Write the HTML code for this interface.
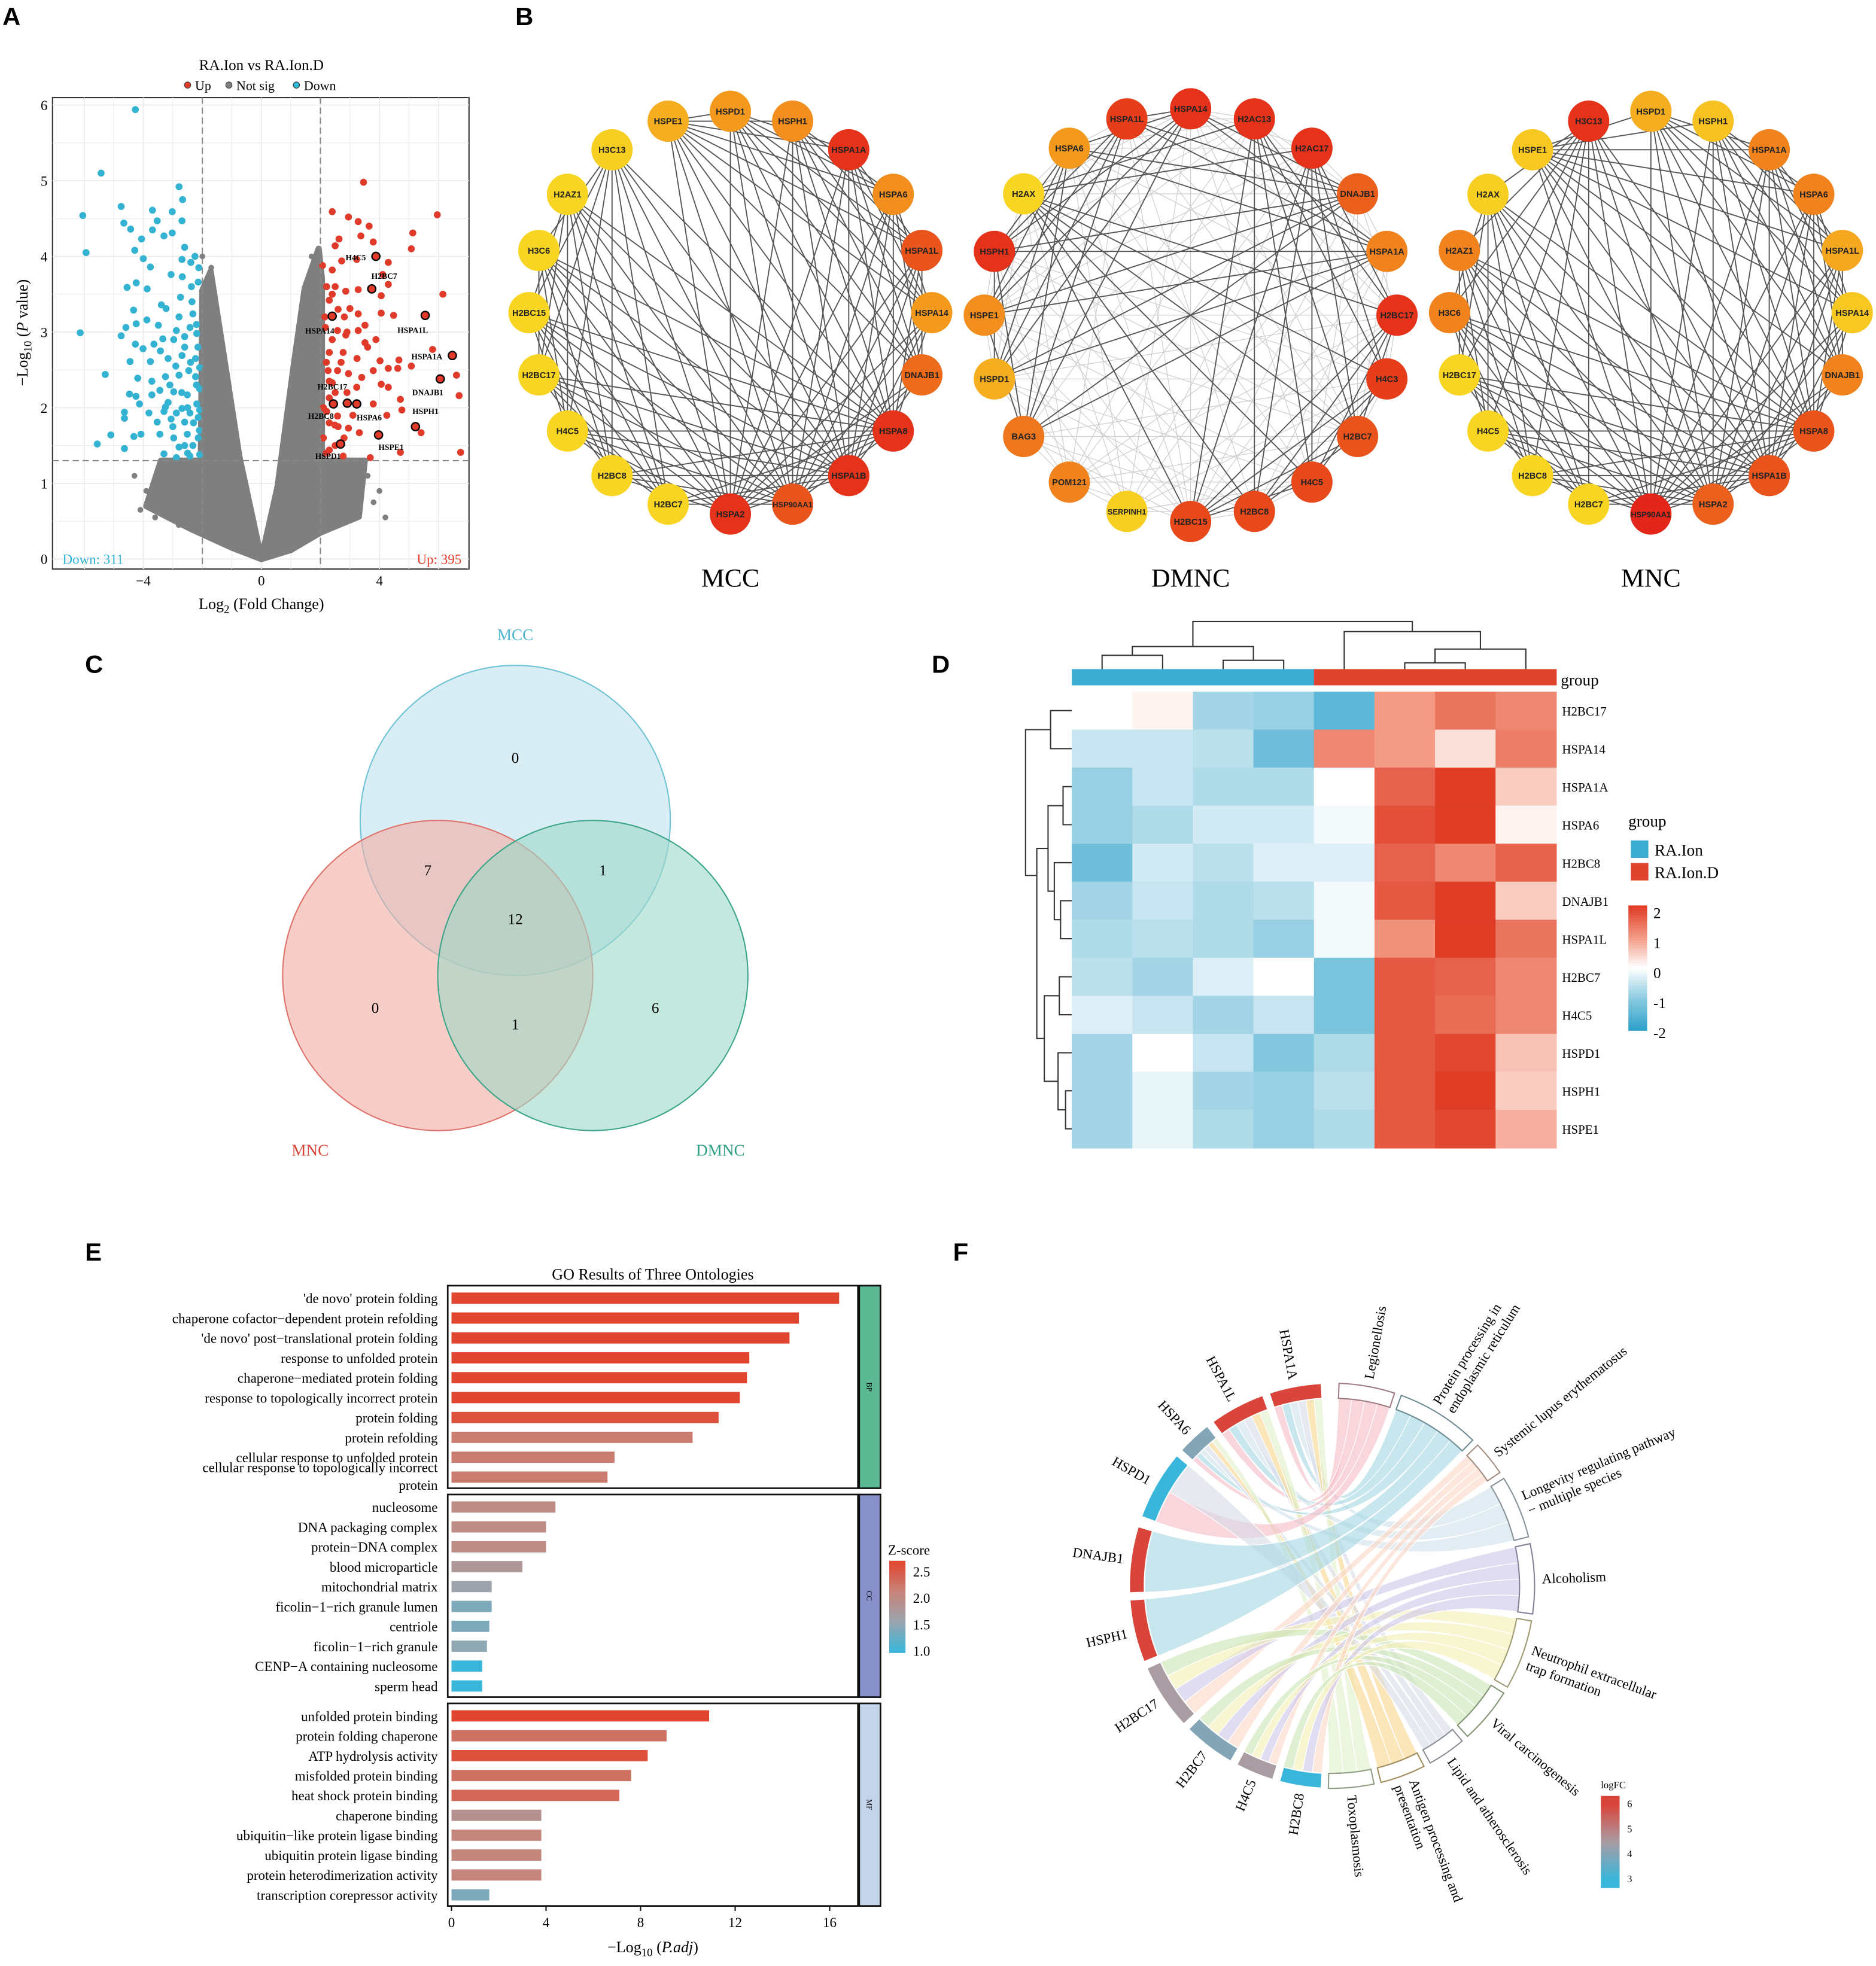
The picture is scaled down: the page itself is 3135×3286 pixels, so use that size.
<!DOCTYPE html>
<html><head><meta charset="utf-8"><style>
html,body{margin:0;padding:0;background:#fff}
svg{display:block}
text{font-family:"Liberation Serif",serif}
.sans{font-family:"Liberation Sans",sans-serif}
</style></head><body>
<svg id="fig" xmlns="http://www.w3.org/2000/svg" width="3135" height="3286" viewBox="0 0 1500 1572" preserveAspectRatio="none">
<rect x="0" y="0" width="1500" height="1572" fill="#fff"/>
<text class="sans" x="2" y="20" font-size="20" font-weight="bold">A</text>
<text class="sans" x="412" y="20" font-size="20" font-weight="bold">B</text>
<text class="sans" x="68" y="538" font-size="20" font-weight="bold">C</text>
<text class="sans" x="745" y="538" font-size="20" font-weight="bold">D</text>
<text class="sans" x="68" y="1008" font-size="20" font-weight="bold">E</text>
<text class="sans" x="762" y="1008" font-size="20" font-weight="bold">F</text>
<g id="A"></g><g id="B"></g><g id="C"></g><g id="D"></g><g id="E"></g><g id="F"></g>
</svg>
<script>
// ---------- DATA ----------
const volcanoDown=[[-4.27,5.94],[-5.43,5.1],[-6.05,4.54],[-5.94,4.05],[-6.14,2.99],[-4.75,4.66],[-2.79,4.92],[-2.67,4.75],[-3.69,4.61],[-4.66,4.44],[-3.02,4.59],[-3.53,4.47],[-2.69,4.47],[-4.43,4.36],[-3.69,4.35],[-3.3,4.27],[-3.02,4.31],[-4.06,4.23],[-4.29,4.08],[-2.6,4.12],[-4.0,3.97],[-2.25,4.0],[-2.69,3.96],[-3.76,3.86],[-2.39,3.92],[-2.12,3.85],[-3.06,3.76],[-2.68,3.73],[-4.55,3.59],[-4.24,3.65],[-3.87,3.57],[-2.37,3.6],[-2.14,3.66],[-2.74,3.46],[-3.39,3.36],[-4.33,3.29],[-4.59,3.06],[-4.24,3.11],[-3.88,3.16],[-3.49,3.09],[-3.23,3.31],[-2.79,3.2],[-2.32,3.24],[-4.75,2.95],[-4.27,2.84],[-4.01,2.78],[-3.64,2.84],[-3.34,2.91],[-2.97,2.9],[-2.6,2.94],[-2.19,2.98],[-3.42,2.75],[-4.45,2.61],[-3.76,2.61],[-3.16,2.65],[-2.69,2.69],[-2.23,2.65],[-5.29,2.44],[-4.19,2.39],[-3.71,2.35],[-3.25,2.41],[-2.79,2.43],[-2.23,2.41],[-4.47,2.18],[-4.25,2.15],[-3.44,2.23],[-2.97,2.21],[-2.51,2.17],[-2.09,2.25],[-4.13,2.05],[-3.25,2.01],[-2.69,1.99],[-2.19,2.05],[-4.64,1.94],[-4.64,1.86],[-3.81,1.93],[-3.53,1.81],[-3.06,1.85],[-2.6,1.81],[-2.14,1.87],[-5.1,1.64],[-5.56,1.52],[-4.64,1.46],[-4.32,1.62],[-4.08,1.65],[-3.44,1.65],[-2.97,1.6],[-2.51,1.65],[-2.14,1.6],[-3.3,1.39],[-2.88,1.34],[-2.42,1.36],[-2.09,1.38],[-2.79,1.48],[-2.32,1.5],[-3.16,2.07],[-2.88,1.93],[-2.42,1.93],[-2.09,1.97],[-2.46,2.49],[-2.09,2.53],[-2.42,3.06],[-2.88,3.02],[-3.71,2.17],[-2.1,1.7],[-2.3,1.8],[-2.5,2.0],[-2.2,2.3],[-2.4,2.6],[-2.15,2.8],[-2.35,3.4],[-2.2,3.1],[-2.6,1.5],[-2.7,2.2],[-2.9,2.55],[-3.1,2.3],[-2.6,2.8],[-3.0,1.75],[-3.3,1.95],[-2.5,1.4]];
const volcanoUp=[[3.46,4.98],[2.4,4.59],[5.96,4.55],[2.95,4.52],[3.28,4.46],[3.65,4.4],[5.13,4.31],[2.63,4.23],[3.37,4.27],[3.79,4.19],[2.5,4.14],[5.08,4.1],[3.88,4.0],[2.72,3.94],[3.23,3.96],[4.3,3.92],[2.07,3.88],[2.4,3.82],[4.11,3.76],[3.74,3.57],[4.3,3.63],[6.15,3.5],[2.21,3.6],[2.5,3.6],[2.86,3.54],[3.28,3.56],[4.06,3.48],[2.3,3.42],[2.4,3.21],[5.55,3.22],[3.0,3.31],[3.28,3.24],[2.81,3.2],[4.06,3.25],[4.48,3.22],[3.51,3.09],[2.17,3.06],[2.58,3.02],[3.28,3.02],[2.86,2.96],[3.88,2.9],[3.51,2.86],[5.8,2.77],[6.47,2.69],[2.3,2.73],[2.77,2.73],[3.24,2.65],[4.02,2.62],[4.66,2.63],[5.08,2.55],[2.26,2.49],[2.58,2.49],[2.95,2.45],[3.79,2.49],[4.3,2.52],[4.62,2.52],[6.61,2.43],[6.06,2.38],[2.4,2.33],[3.23,2.27],[4.06,2.31],[4.3,2.27],[6.7,2.16],[2.3,2.13],[4.71,2.11],[2.44,2.05],[2.91,2.06],[3.23,2.05],[3.79,2.05],[4.76,1.97],[2.21,1.95],[2.58,1.89],[4.25,1.9],[5.22,1.75],[5.41,1.67],[3.97,1.64],[2.49,1.77],[2.95,1.73],[3.32,1.67],[2.68,1.52],[6.75,1.41],[4.71,1.41],[3.69,1.34],[2.3,1.44],[2.77,1.36],[2.1,1.6],[2.3,1.8],[2.5,2.2],[2.2,2.6],[2.4,2.9],[2.15,3.2],[2.6,3.3],[2.1,2.0],[2.7,2.6],[2.9,2.2],[2.5,1.5],[2.2,1.4],[2.8,1.6],[3.1,1.9],[2.4,3.5],[2.9,3.0],[3.4,2.4],[3.6,2.8],[2.3,2.35],[2.6,1.75]];
const volcanoNSLeft=[[0,0],[-0.75,1.36],[-1.2,2.5],[-1.72,3.8],[-2.0,3.55],[-2.05,1.3],[-3.4,1.3],[-3.9,0.7],[-2.4,0.4],[-1.0,0.15]];
const volcanoNSRight=[[0,0],[0.55,0.96],[1.1,2.57],[1.47,3.58],[1.94,4.1],[2.05,3.7],[2.05,1.3],[3.5,1.3],[3.3,0.56],[2.0,0.35],[1.0,0.12]];
const volcanoNSScatter=[[-4.3,1.1],[-4.1,0.65],[-3.9,0.9],[-3.6,0.55],[-3.2,0.6],[-2.8,0.45],[-3.5,1.05],[3.6,1.1],[4.0,0.9],[4.2,0.55],[3.8,0.75],[-2.0,4.0],[-1.7,3.85],[1.7,4.0]];
const volcanoLabels=["H4C5","H2BC7","HSPA14","HSPA1L","HSPA1A","DNAJB1","H2BC8","H2BC17","HSPA6","HSPH1","HSPE1","HSPD1"];
const volcanoLabX=[3.88,3.74,2.4,5.55,6.47,6.06,2.44,2.91,3.23,5.22,3.97,2.68];
const volcanoLabY=[4.0,3.57,3.21,3.22,2.69,2.38,2.05,2.06,2.05,1.75,1.64,1.52];
const volcanoXTicks=[-4,0,4];
const volcanoYTicks=[0,1,2,3,4,5,6];

const mccNames=["HSPD1","HSPH1","HSPA1A","HSPA6","HSPA1L","HSPA14","DNAJB1","HSPA8","HSPA1B","HSP90AA1","HSPA2","H2BC7","H2BC8","H4C5","H2BC17","H2BC15","H3C6","H2AZ1","H3C13","HSPE1"];
const mccScore=[0.5,0.55,0.95,0.55,0.8,0.5,0.7,0.95,0.95,0.8,0.95,0.05,0.05,0.05,0.05,0.05,0.05,0.05,0.1,0.35];
const mccCliques=[[0,1,2,3,4,5,6,7,8,9,10,19],[11,12,13,14,15,16,17,18,10,9,8,7]];
const dmncNames=["HSPA14","H2AC13","H2AC17","DNAJB1","HSPA1A","H2BC17","H4C3","H2BC7","H4C5","H2BC8","H2BC15","SERPINH1","POM121","BAG3","HSPD1","HSPE1","HSPH1","H2AX","HSPA6","HSPA1L"];
const dmncScore=[0.95,0.95,0.95,0.75,0.6,0.95,0.9,0.8,0.85,0.85,0.85,0.1,0.6,0.65,0.35,0.55,0.95,0.05,0.5,0.9];
const dmncCliques=[[0,3,4,14,15,16,18,19,13],[1,2,5,6,7,8,9,10,17]];
const mncNames=["HSPD1","HSPH1","HSPA1A","HSPA6","HSPA1L","HSPA14","DNAJB1","HSPA8","HSPA1B","HSPA2","HSP90AA1","H2BC7","H2BC8","H4C5","H2BC17","H3C6","H2AZ1","H2AX","HSPE1","H3C13"];
const mncScore=[0.35,0.2,0.6,0.6,0.4,0.15,0.6,0.8,0.8,0.75,1.0,0.05,0.05,0.05,0.05,0.6,0.6,0.1,0.15,0.95];
const mncCliques=[[0,1,2,3,4,5,6,7,8,9,10,18],[11,12,13,14,15,16,17,19,10,9,8,7]];

const vennLabels=["0","7","1","12","0","1","6"];
const heatRows=["H2BC17","HSPA14","HSPA1A","HSPA6","H2BC8","DNAJB1","HSPA1L","H2BC7","H4C5","HSPD1","HSPH1","HSPE1"];
const heatVals=[
[0,0.1,-0.8,-0.9,-1.5,1.0,1.4,1.2],
[-0.5,-0.5,-0.6,-1.3,1.2,1.0,0.3,1.3],
[-0.9,-0.5,-0.7,-0.7,0,1.6,2.0,0.5],
[-0.9,-0.7,-0.4,-0.4,-0.1,1.8,2.0,0.1],
[-1.3,-0.4,-0.6,-0.3,-0.3,1.6,1.2,1.6],
[-0.8,-0.5,-0.7,-0.6,-0.1,1.7,2.0,0.5],
[-0.7,-0.6,-0.7,-0.9,-0.1,1.1,2.0,1.4],
[-0.6,-0.8,-0.3,0,-1.2,1.7,1.6,1.2],
[-0.3,-0.5,-0.8,-0.5,-1.2,1.7,1.5,1.2],
[-0.8,0,-0.5,-1.1,-0.7,1.7,1.9,0.6],
[-0.8,-0.2,-0.8,-0.9,-0.6,1.7,2.0,0.5],
[-0.8,-0.2,-0.7,-0.9,-0.7,1.7,1.9,0.8]];
const heatGroups=["RA.Ion","RA.Ion","RA.Ion","RA.Ion","RA.Ion.D","RA.Ion.D","RA.Ion.D","RA.Ion.D"];

const goTerms=["'de novo' protein folding","chaperone cofactor\u2212dependent protein refolding","'de novo' post\u2212translational protein folding","response to unfolded protein","chaperone\u2212mediated protein folding","response to topologically incorrect protein","protein folding","protein refolding","cellular response to unfolded protein","cellular response to topologically incorrect|protein",
"nucleosome","DNA packaging complex","protein\u2212DNA complex","blood microparticle","mitochondrial matrix","ficolin\u22121\u2212rich granule lumen","centriole","ficolin\u22121\u2212rich granule","CENP\u2212A containing nucleosome","sperm head",
"unfolded protein binding","protein folding chaperone","ATP hydrolysis activity","misfolded protein binding","heat shock protein binding","chaperone binding","ubiquitin\u2212like protein ligase binding","ubiquitin protein ligase binding","protein heterodimerization activity","transcription corepressor activity"];
const goValues=[16.4,14.7,14.3,12.6,12.5,12.2,11.3,10.2,6.9,6.6, 4.4,4.0,4.0,3.0,1.7,1.7,1.6,1.5,1.3,1.3, 10.9,9.1,8.3,7.6,7.1,3.8,3.8,3.8,3.8,1.6];
const goZ=[2.7,2.7,2.7,2.7,2.7,2.7,2.6,2.2,2.2,2.2, 2.0,2.0,2.0,1.8,1.6,1.4,1.4,1.5,1.0,1.0, 2.7,2.3,2.6,2.3,2.4,1.9,2.1,2.1,2.1,1.4];
const goOnt=["BP","CC","MF"];
const goXTicks=[0,4,8,12,16];
const goZTicks=[2.5,2.0,1.5,1.0];

const chordGenes=["HSPA1A","HSPA1L","HSPA6","HSPD1","DNAJB1","HSPH1","H2BC17","H2BC7","H4C5","H2BC8"];
const chordGeneStart=[-18,-36,-48,-70,-92,-112,-133,-150,-163,-177];
const chordGeneEnd=[-3,-20,-38,-50,-73,-94,-114,-135,-152,-165];
const chordLogFC=[6,6,4,3,6,6,4.5,4,4.5,3];
const chordPaths=["Legionellosis","Protein processing in|endoplasmic reticulum","Systemic lupus erythematosus","Longevity regulating pathway|\u2212 multiple species","Alcoholism","Neutrophil extracellular|trap formation","Viral carcinogenesis","Lipid and atherosclerosis","Antigen processing and|presentation","Toxoplasmosis"];
const chordPathStart=[2,20,46,58,78,100,122,140,153,168];
const chordPathEnd=[18,44,56,76,98,120,138,151,166,181];
const chordPathColor=["#f6bcc6","#a6d6e2","#fbd9c6","#cfe2ec","#cdc6ea","#f4efb4","#cbe5b6","#d7dbe6","#f7d68e","#e1f1cc"];
const chordLinks=[[0,0],[0,1],[0,3],[0,7],[0,8],[0,9],[1,0],[1,1],[1,3],[1,7],[1,8],[1,9],[2,0],[2,1],[2,3],[2,7],[2,8],[2,9],[3,0],[3,7],[4,1],[5,1],[6,2],[6,4],[6,5],[6,6],[7,2],[7,4],[7,5],[7,6],[8,2],[8,4],[8,5],[8,6],[9,2],[9,4],[9,5],[9,6]];
const chordFCTicks=[6,5,4,3];

// ---------- HELPERS ----------
const NS="http://www.w3.org/2000/svg";
function mk(tag,attrs,parent){const e=document.createElementNS(NS,tag);for(const k in attrs)e.setAttribute(k,attrs[k]);(parent||document.getElementById('fig')).appendChild(e);return e;}
function txt(parent,x,y,s,size,anchor,extra){const e=mk('text',Object.assign({x:x,y:y,'font-size':size,'text-anchor':anchor||'start'},extra||{}),parent);e.textContent=s;return e;}
function hex(c){return [parseInt(c.slice(1,3),16),parseInt(c.slice(3,5),16),parseInt(c.slice(5,7),16)];}
function mix(a,b,t){const A=hex(a),B=hex(b);return 'rgb('+A.map((v,i)=>Math.round(v+(B[i]-v)*t)).join(',')+')';}
function ramp(stops,t){t=Math.max(0,Math.min(1,t));const n=stops.length-1;const i=Math.min(n-1,Math.floor(t*n));return mix(stops[i],stops[i+1],t*n-i);}

// ---------- A: VOLCANO ----------
(function(){
const g=document.getElementById('A');
const X=v=>209+v*23.6, Y=v=>447-v*60.5;
let e=mk('rect',{x:42,y:78,width:333,height:377,fill:'#fff',stroke:'#333','stroke-width':1},g);


for(let v=-6;v<=7;v+=1){e=mk('line',{x1:X(v),x2:X(v),y1:78,y2:455,stroke:'#ececec','stroke-width':v%2===0?0.9:0.5},g);

}
for(let v=0;v<=6;v+=0.5){e=mk('line',{x1:42,x2:375,y1:Y(v),y2:Y(v),stroke:'#ececec','stroke-width':v%1===0?0.9:0.5},g);

}
[volcanoNSLeft,volcanoNSRight].forEach(poly=>{const p=mk('polygon',{points:poly.map(q=>X(q[0])+','+Y(q[1])).join(' '),fill:'#7f7f7f',stroke:'#7f7f7f','stroke-width':5,'stroke-linejoin':'round'},g);

});
volcanoNSScatter.forEach(p=>{const c=mk('circle',{cx:X(p[0]),cy:Y(p[1]),r:2.3,fill:'#7f7f7f'},g);

});
volcanoDown.forEach(p=>{const c=mk('circle',{cx:X(p[0]),cy:Y(p[1]),r:2.8,fill:'#34b2d2'},g);

});
volcanoUp.forEach(p=>{const c=mk('circle',{cx:X(p[0]),cy:Y(p[1]),r:2.8,fill:'#e03a2a'},g);

});
[[X(-2),X(-2),78,455],[X(2),X(2),78,455],[42,375,Y(1.3),Y(1.3)]].forEach(l=>{const c=mk('line',{x1:l[0],x2:l[1],y1:l[2],y2:l[3],stroke:'#888','stroke-width':1,'stroke-dasharray':'5,3'},g);

});
const offs=[[-8,3,'end'],[10,-8,'middle'],[-10,14,'middle'],[-10,14,'middle'],[-8,3,'end'],[-10,13,'middle'],[-10,12,'middle'],[-12,-11,'middle'],[10,13,'middle'],[8,-10,'middle'],[10,12,'middle'],[-10,12,'middle']];
volcanoLabels.forEach((s,i)=>{const px=X(volcanoLabX[i]),py=Y(volcanoLabY[i]);
const c=mk('circle',{cx:px,cy:py,r:3.2,fill:'#e03a2a',stroke:'#000','stroke-width':1.1},g);


const t=txt(g,px+offs[i][0],py+offs[i][1],s,6.5,offs[i][2],{'font-weight':'bold'});

});
volcanoXTicks.forEach(v=>{const t=txt(g,X(v),468,v<0?'\u2212'+(-v):String(v),11,'middle');

});
volcanoYTicks.forEach(v=>{const t=txt(g,38,Y(v)+4,String(v),11,'end');

});
e=txt(g,209,56,'RA.Ion vs RA.Ion.D',12,'middle');
const leg=[['#e03a2a','Up',150],['#7f7f7f','Not sig',183],['#2fb4d2','Down',237]];
leg.forEach(l=>{const c=mk('circle',{cx:l[2],cy:68,r:2.5,fill:l[0],stroke:'#333','stroke-width':0.5},g);


const t=txt(g,l[2]+6,72,l[1],10.5,'start');

});
e=txt(g,50,451,'Down: 311',11,'start',{fill:'#2fb4d2'});
e=txt(g,369,451,'Up: 395',11,'end',{fill:'#e03a2a'});
e=mk('text',{x:209,y:487,'font-size':12.5,'text-anchor':'middle'},g);e.innerHTML='Log<tspan font-size="9" dy="3">2</tspan><tspan dy="-3"> (Fold Change)</tspan>';

e=mk('text',{x:0,y:0,'font-size':12.5,'text-anchor':'middle',transform:'translate(22,266) rotate(-90)'},g);e.innerHTML='\u2212Log<tspan font-size="9" dy="3">10</tspan><tspan dy="-3"> (</tspan><tspan font-style="italic">P</tspan> value)';

})();

// ---------- B: NETWORKS ----------
function nodeColor(s){return ramp(['#f8dc24','#f39a1e','#e3261a'],s);}
function network(cx,cy,r,names,scores,cliques,title,light,key){
const g=mk('g',{},document.getElementById('B'));


const pos=names.map((n,i)=>{const a=i*Math.PI*2/names.length;return [cx+r*Math.sin(a),cy-r*Math.cos(a)];});
if(light){for(let i=0;i<names.length;i++)for(let j=i+1;j<names.length;j++){if((i+j)%3===0)continue;const l=mk('line',{x1:pos[i][0],y1:pos[i][1],x2:pos[j][0],y2:pos[j][1],stroke:'#cfcfcf','stroke-width':0.6},g);

}}
const seen={};
cliques.forEach(c=>{for(let a=0;a<c.length;a++)for(let b=a+1;b<c.length;b++){const i=c[a],j=c[b];const k=Math.min(i,j)+'-'+Math.max(i,j);if(seen[k]||Math.abs(i-j)===1)continue;seen[k]=1;
const l=mk('line',{x1:pos[i][0],y1:pos[i][1],x2:pos[j][0],y2:pos[j][1],stroke:'#555','stroke-width':0.9},g);

}});
names.forEach((n,i)=>{const c=mk('circle',{cx:pos[i][0],cy:pos[i][1],r:16.5,fill:nodeColor(scores[i])},g);


const t=txt(g,pos[i][0],pos[i][1]+2.5,n,n.length>6?6.2:7,'middle',{class:'sans','font-weight':'bold',fill:'#222'});

});
const t=txt(g,cx,469,title,21,'middle');


}
network(584,250,161,mccNames,mccScore,mccCliques,'MCC',false,'mcc');
network(952,252,165,dmncNames,dmncScore,dmncCliques,'DMNC',true,'dmnc');
network(1320,250,161,mncNames,mncScore,mncCliques,'MNC',false,'mnc');

// ---------- C: VENN ----------
(function(){
const g=document.getElementById('C');
const circ=[[412,656,'#bfe3ec','#6ec3d6','mcc-circle'],[350,780,'#f2aba2','#e0706a','mnc-circle'],[474,780,'#9ed8c8','#3aa588','dmnc-circle']];
circ.forEach(c=>{const e=mk('circle',{cx:c[0],cy:c[1],r:124,fill:c[2],'fill-opacity':0.6,stroke:c[3],'stroke-width':1},g);

});
const pos=[[412,610],[342,700],[482,700],[412,739],[300,810],[412,823],[524,810]];
vennLabels.forEach((s,i)=>{const t=txt(g,pos[i][0],pos[i][1],s,12,'middle');

});
let t=txt(g,412,512,'MCC',13,'middle',{fill:'#4fb6cf'});
t=txt(g,248,924,'MNC',13,'middle',{fill:'#d9453a'});
t=txt(g,576,924,'DMNC',13,'middle',{fill:'#2e9e83'});
})();

// ---------- D: HEATMAP ----------
(function(){
const g=document.getElementById('D');
const x0=857,y0=553,cw=48.4,rh=30.4;
function hc(v){return v<0?ramp(['#ffffff','#8ccbe0','#2fa3cc'],-v/2):ramp(['#ffffff','#f29a84','#df3d26'],v/2);}
heatVals.forEach((row,i)=>row.forEach((v,j)=>{const r=mk('rect',{x:x0+j*cw,y:y0+i*rh,width:cw+0.5,height:rh+0.5,fill:hc(v)},g);

}));
heatRows.forEach((s,i)=>{const t=txt(g,1249,y0+i*rh+rh/2+4,s,10,'start');

});
heatGroups.forEach((s,j)=>{const r=mk('rect',{x:x0+j*cw,y:535,width:cw+0.5,height:13,fill:s==='RA.Ion'?'#3cadd0':'#e0432e'},g);

});
let t=txt(g,1248,548,'group',13,'start');
const cx=j=>x0+(j+0.5)*cw;
const top=[[cx(2),cx(3),528,[535,535]],[cx(0),cx(1),524,[535,535]],[(cx(0)+cx(1))/2,(cx(2)+cx(3))/2,517,[524,528]],[cx(5),cx(6),530,[535,535]],[cx(7),(cx(5)+cx(6))/2,519,[535,530]],[cx(4),(cx(7)+(cx(5)+cx(6))/2)/2,505,[535,519]],[((cx(0)+cx(1))/2+(cx(2)+cx(3))/2)/2,(cx(4)+(cx(7)+(cx(5)+cx(6))/2)/2)/2,497,[517,505]]];
top.forEach(d=>{const p=mk('path',{d:`M${d[0]},${d[3][0]}V${d[2]}H${d[1]}V${d[3][1]}`,fill:'none',stroke:'#333','stroke-width':1},g);

});
const ry=i=>y0+(i+0.5)*rh;
const left=[[ry(2),ry(3),850,[857,857]],[ry(5),ry(6),848,[857,857]],[ry(4),(ry(5)+ry(6))/2,843,[857,848]],[(ry(2)+ry(3))/2,(ry(4)+(ry(5)+ry(6))/2)/2,838,[850,843]],[ry(10),ry(11),852,[857,857]],[ry(9),(ry(10)+ry(11))/2,846,[857,852]],[ry(7),ry(8),847,[857,857]],[(ry(7)+ry(8))/2,(ry(9)+(ry(10)+ry(11))/2)/2,835,[847,846]],[((ry(2)+ry(3))/2+(ry(4)+(ry(5)+ry(6))/2)/2)/2,((ry(7)+ry(8))/2+(ry(9)+(ry(10)+ry(11))/2)/2)/2,829,[838,835]],[ry(0),ry(1),840,[857,857]],[(ry(0)+ry(1))/2,700,820,[840,829]]];
left.forEach(d=>{const p=mk('path',{d:`M${d[3][0]},${d[0]}H${d[2]}V${d[1]}H${d[3][1]}`,fill:'none',stroke:'#333','stroke-width':1},g);

});
t=txt(g,1302,661,'group',13,'start');
[['#3cadd0','RA.Ion',672],['#e0432e','RA.Ion.D',690]].forEach(l=>{const r=mk('rect',{x:1304,y:l[2],width:14,height:14,fill:l[0]},g);


const tt=txt(g,1323,l[2]+12,l[1],13,'start');

});
for(let k=0;k<50;k++){const v=2-4*k/49;const r=mk('rect',{x:1302,y:724+k*2,width:15,height:2.2,fill:hc(v)},g);

}
[2,1,0,-1,-2].forEach((v,i)=>{const tt=txt(g,1322,730+i*24+4,v<0?'-'+(-v):String(v),12,'start');

});
})();

// ---------- E: GO BARS ----------
(function(){
const g=document.getElementById('E');
const X=v=>361+v*18.9;
const zc=z=>ramp(['#3ab6da','#9aa4ae','#c78479','#e0452f'],(z-1)/1.7);
const boxes=[[1028,1190],[1195,1357],[1362,1524]];
const stripC=['#5cb993','#8790c8','#c4d4ea'];
boxes.forEach((b,k)=>{let r=mk('rect',{x:358,y:b[0],width:328,height:b[1]-b[0],fill:'#fff',stroke:'#111','stroke-width':1.3},g);


r=mk('rect',{x:687,y:b[0],width:17,height:b[1]-b[0],fill:stripC[k],stroke:'#111','stroke-width':1.3},g);


const t=txt(g,0,0,goOnt[k],6,'middle',{transform:`translate(693,${(b[0]+b[1])/2}) rotate(90)`});

});
goValues.forEach((v,i)=>{const k=Math.floor(i/10),j=i%10;const y=boxes[k][0]+10+j*15.9;
const r=mk('rect',{x:X(0),y:y-4.5,width:X(v)-X(0),height:9,fill:zc(goZ[i])},g);


const parts=goTerms[i].split('|');
if(parts.length>1){const t=txt(g,350,y-4,parts[0],11,'end');
const t2=txt(g,350,y+10,parts[1],11,'end');}
else{const t=txt(g,350,y+4,parts[0],11,'end');}});
goXTicks.forEach(v=>{const l=mk('line',{x1:X(v),x2:X(v),y1:1524,y2:1528,stroke:'#111'},g);


const t=txt(g,X(v),1541,String(v),11,'middle');

});
let t=txt(g,522,1023,'GO Results of Three Ontologies',12.5,'middle');
t=mk('text',{x:522,y:1561,'font-size':12.5,'text-anchor':'middle'},g);t.innerHTML='\u2212Log<tspan font-size="9" dy="3">10</tspan><tspan dy="-3"> (</tspan><tspan font-style="italic">P.adj</tspan>)';

t=txt(g,710,1243,'Z-score',11,'start');
for(let k=0;k<35;k++){const z=2.7-1.7*k/34;const r=mk('rect',{x:711,y:1248+k*2.1,width:13,height:2.3,fill:zc(z)},g);

}
goZTicks.forEach(z=>{const y=1248+(2.7-z)/1.7*72;const tt=txt(g,730,y+4,z.toFixed(1),11,'start');

});
})();

// ---------- F: CHORD ----------
(function(){
const g=document.getElementById('F');
const cx=1065,cy=1268,R1=150,R2=162;
const P=(a,r)=>[cx+r*Math.sin(a*Math.PI/180),cy-r*Math.cos(a*Math.PI/180)];
const fcC=v=>ramp(['#3ab6da','#a99ca2','#d9453a'],(v-3)/3);
function arcSeg(a0,a1,fill,stroke,name){const p0=P(a0,R1),p1=P(a1,R1),q1=P(a1,R2),q0=P(a0,R2);const lg=(a1-a0)>180?1:0;
const e=mk('path',{d:`M${p0}A${R1},${R1} 0 ${lg} 1 ${p1}L${q1}A${R2},${R2} 0 ${lg} 0 ${q0}Z`,fill:fill,stroke:stroke,'stroke-width':1},g);

}
const gCount=chordGenes.map(()=>0),pCount=chordPaths.map(()=>0);
chordLinks.forEach(l=>{gCount[l[0]]++;pCount[l[1]]++;});
const gUsed=chordGenes.map(()=>0),pUsed=chordPaths.map(()=>0);
chordLinks.forEach(l=>{const gi=l[0],pi=l[1];
const gw=(chordGeneEnd[gi]-chordGeneStart[gi])/gCount[gi],pw=(chordPathEnd[pi]-chordPathStart[pi])/pCount[pi];
const g0=chordGeneStart[gi]+gw*gUsed[gi]++,g1=g0+gw;
const p0=chordPathStart[pi]+pw*pUsed[pi]++,p1=p0+pw;
const A=P(g0,R1),B=P(g1,R1),C=P(p0,R1),D=P(p1,R1);
const e=mk('path',{d:`M${A}A${R1},${R1} 0 0 1 ${B}Q${cx},${cy} ${C}A${R1},${R1} 0 0 1 ${D}Q${cx},${cy} ${A}Z`,fill:chordPathColor[pi],'fill-opacity':0.62,stroke:'#fff','stroke-width':0.6},g);

});
chordGenes.forEach((s,i)=>{arcSeg(chordGeneStart[i],chordGeneEnd[i],fcC(chordLogFC[i]),'#fff','gene-arc-'+s.toLowerCase());
const m=(chordGeneStart[i]+chordGeneEnd[i])/2;const p=P(m,R2+6);
const t=txt(g,0,0,s,11,'end',{transform:`translate(${p[0]},${p[1]}) rotate(${m+90})`,dy:'4'});

});
chordPaths.forEach((s,i)=>{arcSeg(chordPathStart[i],chordPathEnd[i],'#fff',mix(chordPathColor[i],'#000000',0.35),'pathway-arc');
const m=(chordPathStart[i]+chordPathEnd[i])/2;const p=P(m,R2+6);const parts=s.split('|');
const flip=m>180;const rot=flip?m+90:m-90;
const t=mk('text',{x:0,y:0,'font-size':11,'text-anchor':flip?'end':'start',transform:`translate(${p[0]},${p[1]}) rotate(${rot})`},g);
parts.forEach((ps,k)=>{const sp=mk('tspan',{x:0,dy:k===0?(parts.length>1?-3:4):13},t);sp.textContent=ps;});

});
let t=txt(g,1280,1430,'logFC',8,'start');
for(let k=0;k<35;k++){const v=6.3-3.6*k/34;const r=mk('rect',{x:1280,y:1436+k*2.1,width:15,height:2.3,fill:fcC(v)},g);

}
chordFCTicks.forEach(v=>{const y=1436+(6.3-v)/3.6*72;const tt=txt(g,1301,y+3,String(v),8,'start');

});
})();
</script>
</body></html>
